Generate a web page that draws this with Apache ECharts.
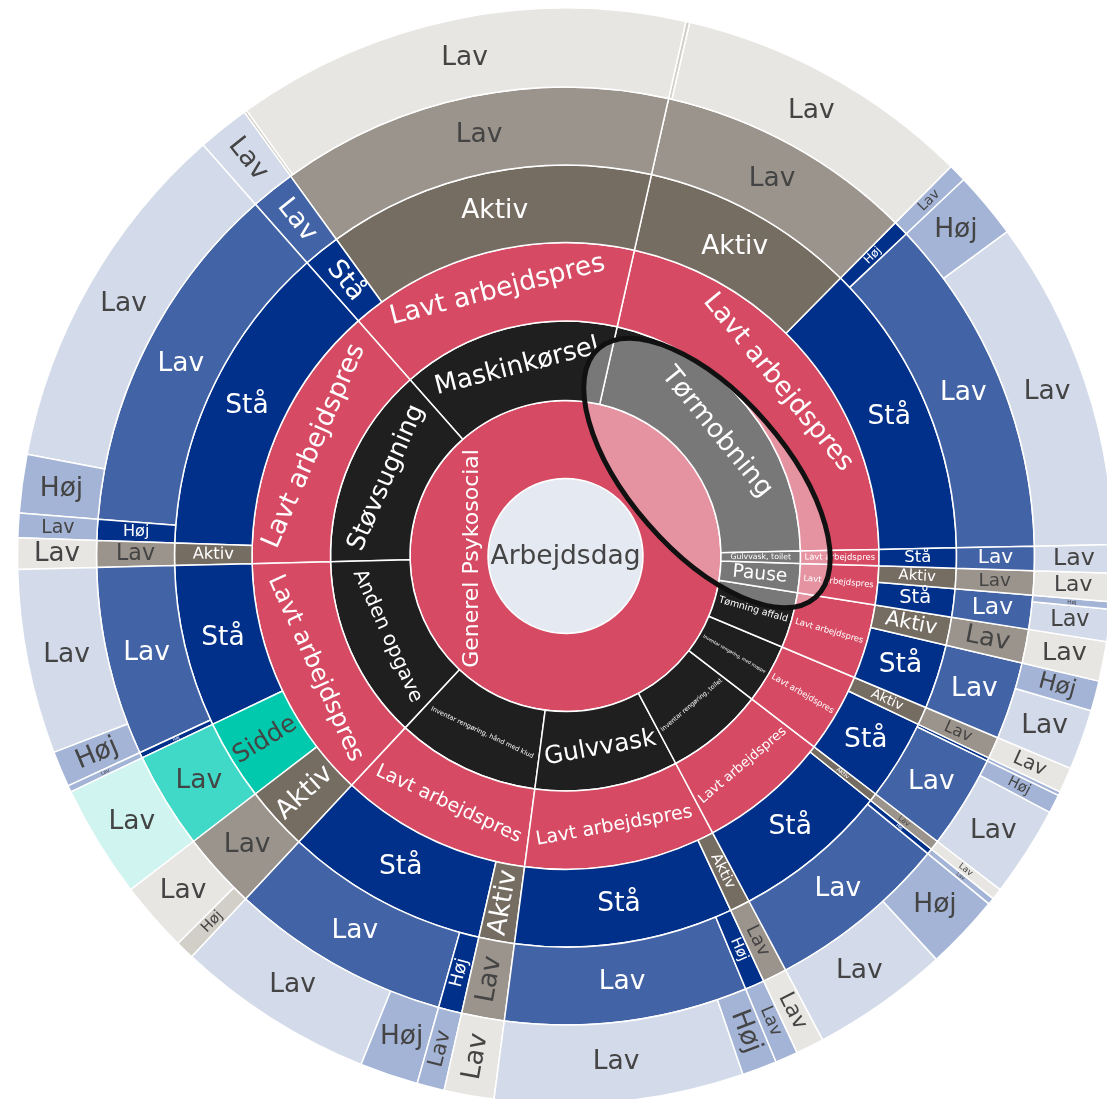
<!DOCTYPE html>
<html>
<head>
<meta charset="utf-8">
<script src="https://cdn.jsdelivr.net/npm/echarts@6/dist/echarts.min.js"></script>
<style>
html,body{margin:0;padding:0;background:#ffffff;}
#chart{width:1107px;height:1099px;}
</style>
</head>
<body>
<div id="chart"></div>
<script>
// ---------- DATA ----------
const rootLabel = 'Arbejdsdag';
const level1Label = 'Generel Psykosocial';
const level3Label = 'Lavt arbejdspres';
const tasks = ['Tørmobning', 'Maskinkørsel', 'Støvsugning', 'Anden opgave',
  'Inventar rengøring, hånd med klud', 'Gulvvask', 'Inventar rengøring, toilet',
  'Inventar rengøring, med moppe', 'Tømning affald', 'Pause', 'Gulvvask, toilet'];
// one entry per outermost segment (in drawing order)
const leafTask    = [0,0,0,0,0, 1,1,1, 2,2,2,2, 3,3,3,3,3,3, 4,4,4,4, 5,5,5,5, 6,6,6,6, 7,7,7,7, 8,8,8, 9,9,9, 10];
const leafPosture = ['Stå','Stå','Stå','Aktiv','Aktiv',
  'Aktiv','Aktiv','Stå',
  'Stå','Stå','Stå','Aktiv',
  'Stå','Stå','Stå','Sidde','Aktiv','Aktiv',
  'Stå','Stå','Stå','Aktiv',
  'Stå','Stå','Stå','Aktiv',
  'Stå','Stå','Stå','Aktiv',
  'Stå','Stå','Stå','Aktiv',
  'Stå','Stå','Aktiv',
  'Stå','Stå','Aktiv',
  'Stå'];
const leafLevel5 = ['Lav','Lav','Høj','Lav','Lav',
  'Lav','Lav','Lav',
  'Lav','Lav','Høj','Lav',
  'Lav','Lav','Høj','Lav','Lav','Lav',
  'Lav','Lav','Høj','Lav',
  'Lav','Lav','Høj','Lav',
  'Lav','Lav','Høj','Lav',
  'Lav','Lav','Høj','Lav',
  'Lav','Lav','Lav',
  'Lav','Lav','Lav',
  'Lav'];
const leafLevel6 = ['Lav','Høj','Lav','Lav','Høj',
  'Lav','Høj','Lav',
  'Lav','Høj','Lav','Lav',
  'Lav','Høj','Lav','Lav','Lav','Høj',
  'Lav','Høj','Lav','Lav',
  'Lav','Høj','Lav','Lav',
  'Lav','Høj','Lav','Lav',
  'Lav','Høj','Lav','Lav',
  'Lav','Høj','Lav',
  'Lav','Høj','Lav',
  'Lav'];
const leafValue = [351, 71, 19, 316, 4,
  483, 3, 55,
  379, 62, 26, 33,
  196, 38, 7, 120, 75, 20,
  211, 62, 29, 53,
  264, 37, 24, 30,
  146, 80, 7, 12,
  96, 20, 4, 27,
  64, 32, 42,
  34, 8, 30,
  30];

// ---------- STYLE ----------
const R = [0, 77.5, 155.5, 235, 313.5, 391, 469, 548];
const CX = 565.5, CY = 556;
const START = 1.2;
const FMAX = 26.5;
const FONT = 'DejaVu Sans';
const colorOf = {
  'Stå': '#01308a', 'Stå/Lav': '#4263a6', 'Stå/Høj': '#01308a',
  'Stå/Lav/Lav': '#d3dae9', 'Stå/Lav/Høj': '#a4b4d6', 'Stå/Høj/Lav': '#a4b4d6',
  'Aktiv': '#766d62', 'Aktiv/Lav': '#9b948c', 'Aktiv/Lav/Lav': '#e8e6e3', 'Aktiv/Lav/Høj': '#d2cec8',
  'Sidde': '#00c9ad', 'Sidde/Lav': '#40d8c6', 'Sidde/Lav/Lav': '#d0f4ef'
};
const lightText = {'Stå': 1, 'Stå/Lav': 1, 'Stå/Høj': 1, 'Aktiv': 1};

// ---------- BUILD TREE ----------
function buildTree() {
  const gen = {name: level1Label, children: []};
  const root = {name: rootLabel, children: [gen]};
  for (let i = 0; i < leafValue.length; i++) {
    const path = [tasks[leafTask[i]], level3Label, leafPosture[i], leafLevel5[i], leafLevel6[i]];
    let node = gen;
    path.forEach(nm => {
      node.children = node.children || [];
      let ch = node.children.find(c => c.name === nm);
      if (!ch) { ch = {name: nm}; node.children.push(ch); }
      node = ch;
    });
    node.value = leafValue[i];
  }
  return root;
}
function sumUp(n) {
  if (!n.children) return n.value;
  n.value = n.children.reduce((a, c) => a + sumUp(c), 0);
  return n.value;
}
const tree = buildTree();
const TOTAL = sumUp(tree);

const ctx = document.createElement('canvas').getContext('2d');
ctx.font = '100px "' + FONT + '"';
function wpp(t) { return ctx.measureText(t).width / 100; }

function fitLabel(name, depth, spanDeg, midDeg) {
  const r0 = R[depth - 1], r1 = R[depth], D = r1 - r0, rm = (r0 + r1) / 2;
  const c = wpp(name);
  const sp = Math.min(spanDeg, 180) * Math.PI / 180;
  const chord = 2 * rm * Math.sin(sp / 2);
  const chordIn = 2 * (rm - 0.25 * D) * Math.sin(sp / 2);
  const th = midDeg * Math.PI / 180;
  const ca = Math.abs(Math.cos(th)), sa = Math.abs(Math.sin(th));
  const fh = Math.min(0.9 * D / (c * ca + sa), 0.9 * chord / (c * sa + ca));
  const fr = Math.min(0.9 * D / c, 0.85 * chordIn);
  const ft = Math.min(0.8 * D, 0.95 * chord / c);
  const best = Math.min(FMAX, Math.max(fr, ft));
  let rot, f;
  if (fh >= FMAX || (name.length <= 4 && fh >= 0.88 * best)) { rot = 0; f = fh; }
  else if (fr >= 0.97 * ft) { rot = 'radial'; f = fr; }
  else { rot = 'tangential'; f = ft; }
  f = Math.min(FMAX, f);
  return {rot, f};
}

function styleNode(n, depth, start, key) {
  const span = n.value / TOTAL * 360;
  const mid = start + span / 2;
  let color, txt = '#ffffff', lab;
  if (depth === 1) {
    color = '#e5e9f2'; txt = '#444444';
    // the library puts this label half a ring off-centre; a spacer re-centres it
    lab = {rotate: 0, formatter: '{s|}{t|{b}}',
      rich: {s: {width: R[1], height: 10}, t: {fontSize: 26.5, color: txt, fontFamily: FONT}}};
  } else if (depth === 2) {
    color = '#d64b63';
    lab = {rotate: 90, formatter: '{s|}\n{t|{b}}',
      rich: {s: {height: 46, width: 10}, t: {fontSize: 22, color: txt, fontFamily: FONT}}};
  } else {
    if (depth === 3) color = '#1f1f1f';
    else if (depth === 4) color = '#d64b63';
    else {
      color = colorOf[key];
      txt = lightText[key] ? '#ffffff' : '#444444';
    }
    const ft = fitLabel(n.name, depth, span, mid);
    lab = {rotate: ft.rot, fontSize: ft.f, show: ft.f >= 4};
  }
  n.itemStyle = {color: color};
  n.label = Object.assign({color: txt, fontFamily: FONT}, lab);
  let s = start;
  (n.children || []).forEach(ch => {
    const k = depth >= 5 ? key + '/' + ch.name : (depth === 4 ? ch.name : '');
    styleNode(ch, depth + 1, s, k);
    s += ch.value / TOTAL * 360;
  });
}
styleNode(tree, 1, START, '');

const levels = [{}];
for (let d = 1; d < R.length; d++) levels.push({r0: R[d - 1], r: R[d]});

const chart = echarts.init(document.getElementById('chart'), null, {renderer: 'canvas'});
chart.setOption({
  animation: false,
  backgroundColor: '#ffffff',
  textStyle: {fontFamily: FONT},
  series: [{
    type: 'sunburst',
    center: [CX, CY],
    startAngle: START,
    clockwise: false,
    sort: null,
    nodeClick: false,
    data: [tree],
    levels: levels,
    itemStyle: {borderColor: '#ffffff', borderWidth: 1.5},
    label: {fontFamily: FONT},
    emphasis: {focus: 'none'}
  }],
  graphic: [{
    type: 'ellipse',
    x: 707, y: 473,
    rotation: -49 * Math.PI / 180,
    shape: {cx: 0, cy: 0, rx: 165, ry: 78},
    style: {fill: 'rgba(255,255,255,0.4)', stroke: '#111111', lineWidth: 5},
    z: 100
  }]
});
</script>
</body>
</html>
